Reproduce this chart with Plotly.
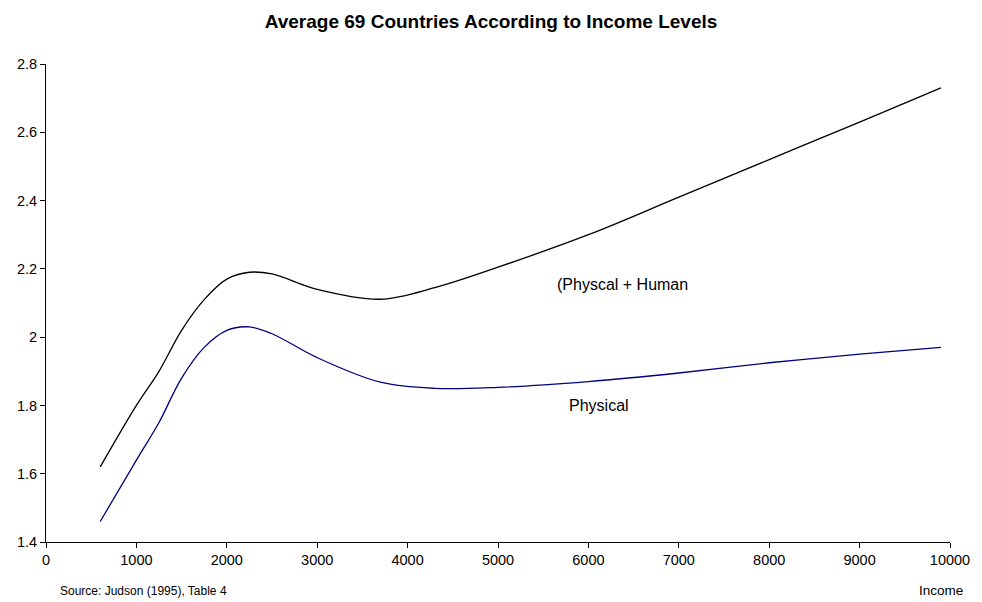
import plotly.graph_objects as go

# Income levels (x) and ratio values for the two capital measures
income = [600, 1000, 1250, 1500, 1750, 2000, 2250, 2500, 3000, 3700, 4300,
          5000, 6000, 7000, 8000, 9000, 9900]
phys_human = [1.62, 1.80, 1.90, 2.02, 2.11, 2.17, 2.19, 2.185, 2.14, 2.111, 2.145,
              2.205, 2.30, 2.41, 2.52, 2.63, 2.73]
physical = [1.46, 1.64, 1.75, 1.88, 1.97, 2.02, 2.03, 2.01, 1.94, 1.868, 1.85,
            1.853, 1.87, 1.895, 1.925, 1.95, 1.97]

y_ticks = [1.4, 1.6, 1.8, 2.0, 2.2, 2.4, 2.6, 2.8]
y_labels = ["1.4", "1.6", "1.8", "2", "2.2", "2.4", "2.6", "2.8"]
x_ticks = list(range(0, 10001, 1000))

font = "Liberation Sans, Arial, sans-serif"

fig = go.Figure()
fig.add_trace(go.Scatter(x=income, y=phys_human, mode="lines",
                         line=dict(color="#000000", width=1.3, shape="spline", smoothing=1.0),
                         name="(Physcal + Human", showlegend=False))
fig.add_trace(go.Scatter(x=income, y=physical, mode="lines",
                         line=dict(color="#000080", width=1.3, shape="spline", smoothing=1.0),
                         name="Physical", showlegend=False))

fig.update_layout(
    width=982, height=602,
    margin=dict(l=46, r=24, t=64, b=60),
    paper_bgcolor="white", plot_bgcolor="white",
    font=dict(family=font, size=14.5, color="#000000"),
    title=dict(text="<b>Average 69 Countries According to Income Levels</b>",
               x=0.5, xanchor="center", y=0.965, yanchor="middle",
               font=dict(family=font, size=19, color="#000000")),
    xaxis=dict(range=[0, 10000], tickvals=x_ticks, ticktext=[str(v) for v in x_ticks],
               showline=True, linecolor="#000000", linewidth=1,
               ticks="outside", ticklen=5, tickcolor="#000000",
               showgrid=False, zeroline=False),
    yaxis=dict(range=[1.4, 2.8], tickvals=y_ticks, ticktext=y_labels,
               showline=True, linecolor="#000000", linewidth=1,
               ticks="outside", ticklen=5, tickcolor="#000000",
               showgrid=False, zeroline=False),
)

fig.add_annotation(x=6380, y=2.155, text="(Physcal + Human", showarrow=False,
                   font=dict(family=font, size=16))
fig.add_annotation(x=6120, y=1.80, text="Physical", showarrow=False,
                   font=dict(family=font, size=16))
fig.add_annotation(xref="paper", yref="paper", x=0.0, y=-0.102, xanchor="left", yanchor="middle",
                   xshift=12, text="Source: Judson (1995), Table 4", showarrow=False,
                   font=dict(family=font, size=12))
fig.add_annotation(xref="paper", yref="paper", x=1.0, y=-0.102, xanchor="right", yanchor="middle",
                   xshift=15, text="Income", showarrow=False,
                   font=dict(family=font, size=13.5))

fig.write_html("out.html")
